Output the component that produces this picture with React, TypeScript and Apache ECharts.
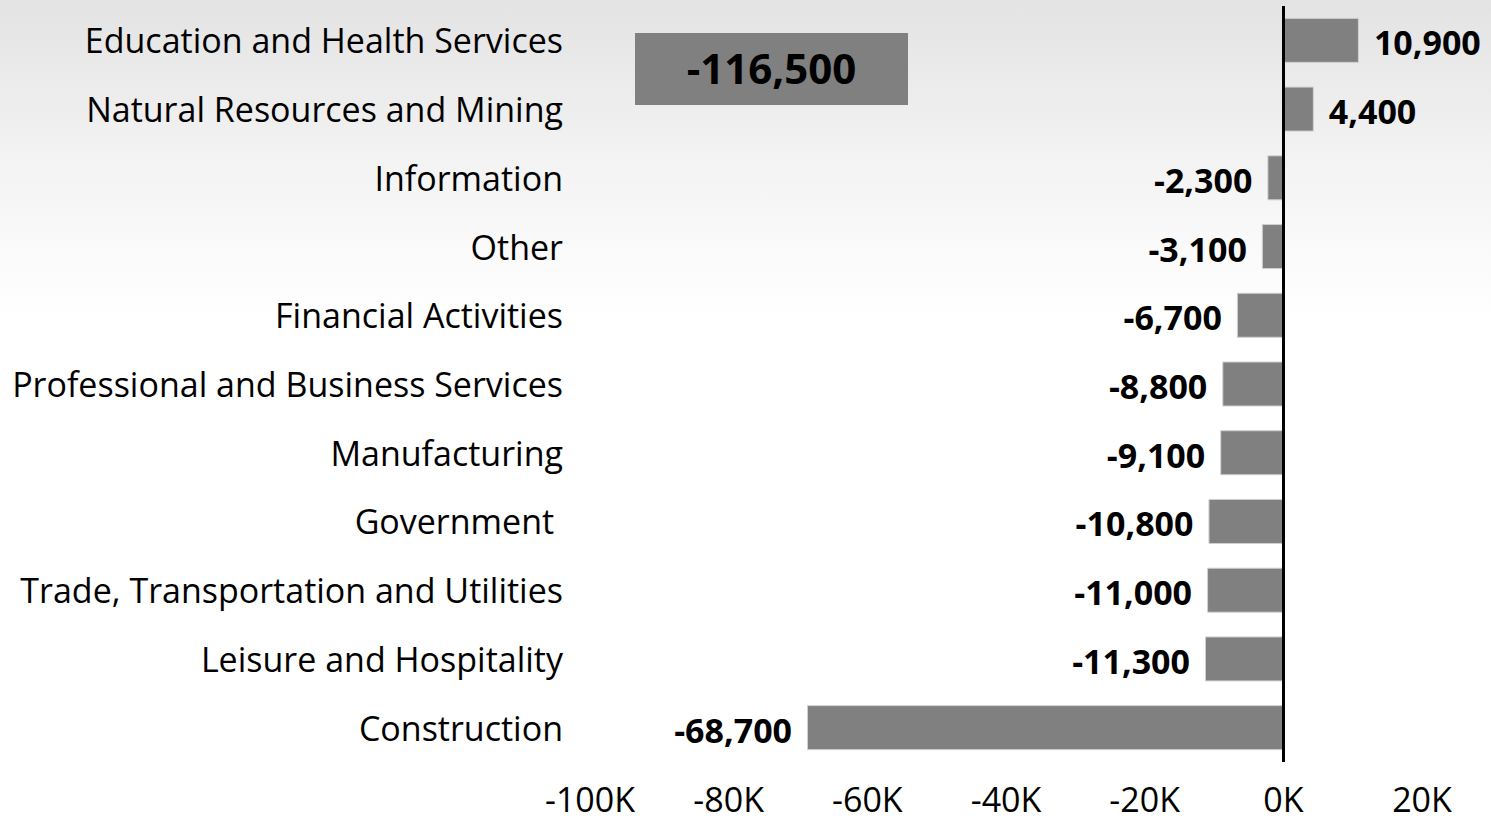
import React, { useEffect, useRef } from "react";
import * as echarts from "echarts";

const categories = [
  "Education and Health Services",
  "Natural Resources and Mining",
  "Information",
  "Other",
  "Financial Activities",
  "Professional and Business Services",
  "Manufacturing",
  "Government ",
  "Trade, Transportation and Utilities",
  "Leisure and Hospitality",
  "Construction",
];
const values = [10900, 4400, -2300, -3100, -6700, -8800, -9100, -10800, -11000, -11300, -68700];
const totalLabel = "-116,500";
const xMin = -100000;
const xMax = 20000;
const xStep = 20000;

const FONT = "'Open Sans', sans-serif";

function fmt(n: number) {
  const s = Math.abs(n).toLocaleString("en-US");
  return (n < 0 ? "-" : "") + s;
}

export default function App() {
  const ref = useRef<HTMLDivElement>(null);
  useEffect(() => {
    document.body.style.margin = "0";
    const chart = echarts.init(ref.current!, null, { renderer: "svg" });
    chart.setOption({
      animation: false,
      textStyle: { fontFamily: FONT },
      graphic: [
        {
          type: "rect",
          z: -10,
          shape: { x: 0, y: 0, width: 1491, height: 320 },
          style: {
            fill: new echarts.graphic.LinearGradient(0, 0, 0, 1, [
              { offset: 0, color: "#e3e3e3" },
              { offset: 0.47, color: "#f2f2f2" },
              { offset: 0.78, color: "#fafafa" },
              { offset: 1, color: "#ffffff" },
            ]),
          },
          silent: true,
        },
        {
          type: "rect",
          z: 10,
          shape: { x: 635, y: 33, width: 273, height: 72 },
          style: { fill: "#808080" },
        },
        {
          type: "text",
          z: 11,
          x: 771.5,
          y: 67,
          style: {
            text: totalLabel,
            fill: "#000",
            font: `bold 42px ${FONT}`,
            align: "center",
            verticalAlign: "middle",
          },
        },
      ],
      grid: { left: 590, right: 69, top: 6, bottom: 66, containLabel: false },
      xAxis: {
        type: "value",
        min: xMin,
        max: xMax,
        interval: xStep,
        splitLine: { show: false },
        axisLine: { show: false },
        axisTick: { show: false },
        axisLabel: {
          fontSize: 34,
          color: "#000",
          margin: 20,
          fontFamily: FONT,
          formatter: (v: number) => `${v / 1000}K`,
        },
      },
      yAxis: {
        type: "category",
        inverse: true,
        data: categories,
        axisLine: { show: false },
        axisTick: { show: false },
        axisLabel: { fontSize: 34, color: "#000", margin: 27, fontFamily: FONT },
      },
      series: [
        {
          type: "bar",
          data: values.map((v) => ({
            value: v,
            label: { position: v >= 0 ? "right" : "left" },
          })),
          barWidth: 45,
          itemStyle: { color: "#808080", borderColor: "#d0d0d0", borderWidth: 1 },
          label: {
            show: true,
            distance: 15,
            offset: [0, 2],
            color: "#000",
            fontWeight: "bold",
            fontSize: 34,
            fontFamily: FONT,
            formatter: (p: any) => fmt(p.value),
          },
          markLine: {
            silent: true,
            symbol: "none",
            label: { show: false },
            lineStyle: { color: "#000", width: 3, type: "solid" },
            data: [{ xAxis: 0 }],
          },
        },
      ],
    });
    return () => chart.dispose();
  }, []);
  return <div ref={ref} style={{ width: 1491, height: 828 }} />;
}
